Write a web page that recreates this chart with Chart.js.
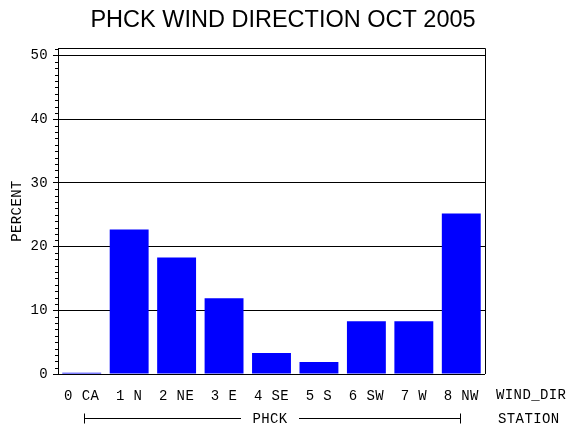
<!DOCTYPE html>
<html>
<head>
<meta charset="utf-8">
<script src="https://cdn.jsdelivr.net/npm/chart.js@4/dist/chart.umd.min.js"></script>
<style>
  html, body { margin: 0; padding: 0; background: #fff; }
  canvas { display: block; }
</style>
</head>
<body>
<canvas id="windChart" width="570" height="430"></canvas>
<script>
var titleText  = 'PHCK WIND DIRECTION OCT 2005';
var directions = ['0 CA', '1 N', '2 NE', '3 E', '4 SE', '5 S', '6 SW', '7 W', '8 NW'];
var percents   = [0.2, 22.7, 18.3, 11.9, 3.3, 1.9, 8.3, 8.3, 25.2];
var yTicks     = [0, 10, 20, 30, 40, 50];
var yMax       = 51.2;
var stationName = 'PHCK';

var monoFont = '"Liberation Mono", "DejaVu Sans Mono", monospace';

// extra decorations: title, frame, minor ticks, axis names, station bracket
var extras = {
    id: 'extras',
    beforeDraw: function (chart) {
        chart.ctx.letterSpacing = '0.4px';
    },
    afterDraw: function (chart) {
        var ctx = chart.ctx;
        var a = chart.chartArea;
        var y = chart.scales.y;
        ctx.save();
        ctx.strokeStyle = '#000';
        ctx.fillStyle = '#000';
        ctx.lineWidth = 1;

        // frame top + right
        ctx.beginPath();
        ctx.moveTo(a.left, a.top + 0.5);
        ctx.lineTo(a.right + 0.5, a.top + 0.5);
        ctx.lineTo(a.right + 0.5, a.bottom);
        ctx.stroke();

        // minor ticks every unit
        ctx.beginPath();
        for (var v = 1; v < yMax; v++) {
            if (v % 10 === 0) continue;
            var py = Math.round(y.getPixelForValue(v)) + 0.5;
            ctx.moveTo(a.left - 3, py);
            ctx.lineTo(a.left, py);
        }
        ctx.stroke();

        // title
        ctx.letterSpacing = '0px';
        ctx.font = '23.5px "Liberation Sans", Arial, sans-serif';
        ctx.textAlign = 'center';
        ctx.textBaseline = 'middle';
        ctx.fillText(titleText, 283, 21);

        ctx.letterSpacing = '0.4px';
        ctx.font = '14px ' + monoFont;

        // y axis name
        ctx.save();
        ctx.translate(17, 211);
        ctx.rotate(-Math.PI / 2);
        ctx.fillText('PERCENT', 0, 0);
        ctx.restore();

        ctx.textAlign = 'left';
        ctx.fillText('WIND_DIR', 496, 395);
        ctx.fillText('STATION', 498, 419);

        // station bracket
        var x0 = 84, x1 = 460, by = 418.5;
        ctx.textAlign = 'center';
        ctx.fillText(stationName, 270, 419);
        ctx.beginPath();
        ctx.moveTo(x0 + 0.5, by - 5); ctx.lineTo(x0 + 0.5, by + 5);
        ctx.moveTo(x1 + 0.5, by - 5); ctx.lineTo(x1 + 0.5, by + 5);
        ctx.moveTo(x0, by); ctx.lineTo(241, by);
        ctx.moveTo(299, by); ctx.lineTo(x1, by);
        ctx.stroke();
        ctx.restore();
    }
};

new Chart(document.getElementById('windChart'), {
    type: 'bar',
    data: {
        labels: directions,
        datasets: [{
            label: 'Percent',
            data: percents,
            backgroundColor: '#0000ff',
            borderWidth: 0,
            barPercentage: 0.82,
            categoryPercentage: 1
        }]
    },
    options: {
        responsive: false,
        animation: false,
        devicePixelRatio: 1,
        layout: { padding: { left: 0, top: 48, right: 85, bottom: 0 } },
        plugins: {
            legend: { display: false },
            tooltip: { enabled: false },
            title: { display: false }
        },
        scales: {
            x: {
                grid: { display: false },
                border: { display: false },
                ticks: {
                    color: '#000',
                    font: { family: monoFont, size: 14 },
                    padding: 6,
                    maxRotation: 0,
                    autoSkip: false
                },
                afterFit: function (s) { s.height = 56; }
            },
            y: {
                z: 1,
                min: 0,
                max: yMax,
                afterBuildTicks: function (s) {
                    s.ticks = yTicks.map(function (v) { return { value: v }; });
                },
                ticks: {
                    color: '#000',
                    font: { family: monoFont, size: 14 },
                    padding: 5
                },
                grid: { color: '#000', lineWidth: 1, tickLength: 5 },
                border: { color: '#000', width: 1 },
                afterFit: function (s) { s.width = 58; }
            }
        }
    },
    plugins: [extras]
});
</script>
</body>
</html>
